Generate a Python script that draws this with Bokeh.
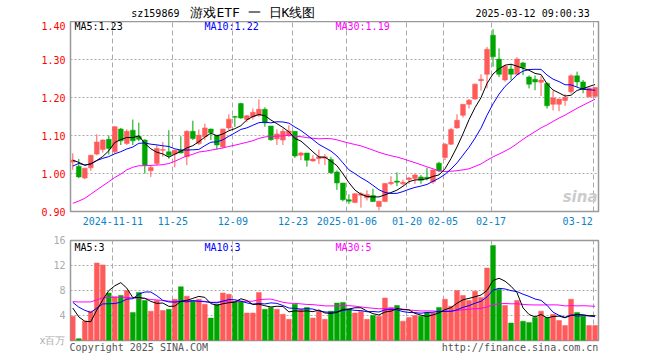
import numpy as np
import pandas as pd
from bokeh.plotting import figure
from bokeh.models import Range1d, FixedTicker, Label, ColumnDataSource, NumeralTickFormatter
from bokeh.core.properties import value
from bokeh.layouts import column
from bokeh.embed import file_html
from bokeh.resources import INLINE

# ---------------- data ----------------
# daily OHLC, 2024-10-31 .. 2025-03-12 (88 sessions)
opens = [1.030, 1.019, 0.988, 1.015, 1.051, 1.063, 1.090, 1.057, 1.117, 1.079,
         1.114, 1.098, 1.088, 1.007, 1.026, 1.061, 1.057, 1.051, 1.061, 1.044,
         1.111, 1.079, 1.097, 1.117, 1.101, 1.070, 1.120, 1.150, 1.184, 1.142,
         1.149, 1.153, 1.169, 1.125, 1.091, 1.088, 1.101, 1.111, 1.048, 1.054,
         1.033, 1.039, 1.040, 1.037, 1.004, 0.975, 0.931, 0.924, 0.943, 0.936,
         0.942, 0.913, 0.926, 0.973, 0.980, 0.973, 0.984, 0.987, 0.991, 0.990,
         0.978, 1.027, 1.042, 1.077, 1.120, 1.153, 1.182, 1.196, 1.244, 1.261,
         1.364, 1.301, 1.246, 1.275, 1.261, 1.291, 1.254, 1.248, 1.240, 1.237,
         1.182, 1.182, 1.192, 1.215, 1.257, 1.241, 1.202, 1.203]
highs = [1.053, 1.038, 1.015, 1.049, 1.103, 1.090, 1.100, 1.125, 1.120, 1.116,
         1.142, 1.134, 1.090, 1.022, 1.075, 1.083, 1.114, 1.063, 1.098, 1.114,
         1.139, 1.116, 1.131, 1.118, 1.101, 1.118, 1.156, 1.152, 1.186, 1.154,
         1.171, 1.195, 1.174, 1.125, 1.116, 1.118, 1.127, 1.111, 1.057, 1.054,
         1.048, 1.063, 1.051, 1.044, 1.008, 0.975, 0.945, 0.947, 0.951, 0.956,
         0.960, 0.927, 0.975, 0.993, 1.003, 0.984, 0.991, 1.000, 0.996, 1.015,
         1.011, 1.031, 1.080, 1.120, 1.156, 1.182, 1.196, 1.237, 1.261, 1.333,
         1.380, 1.329, 1.286, 1.288, 1.306, 1.294, 1.258, 1.258, 1.256, 1.240,
         1.218, 1.196, 1.209, 1.261, 1.268, 1.246, 1.226, 1.227]
lows = [1.010, 0.988, 0.985, 1.007, 1.048, 1.055, 1.050, 1.052, 1.075, 1.075,
        1.075, 1.085, 1.000, 0.991, 1.022, 1.044, 1.039, 1.016, 1.053, 1.022,
        1.088, 1.075, 1.088, 1.088, 1.063, 1.066, 1.114, 1.123, 1.144, 1.135,
        1.142, 1.149, 1.123, 1.086, 1.075, 1.075, 1.096, 1.041, 1.035, 1.018,
        1.031, 1.025, 1.022, 1.000, 0.957, 0.927, 0.920, 0.922, 0.910, 0.929,
        0.925, 0.903, 0.925, 0.969, 0.967, 0.969, 0.973, 0.973, 0.973, 0.982,
        0.973, 1.004, 1.035, 1.075, 1.118, 1.147, 1.171, 1.194, 1.218, 1.224,
        1.281, 1.254, 1.242, 1.246, 1.258, 1.259, 1.224, 1.219, 1.204, 1.171,
        1.166, 1.164, 1.178, 1.210, 1.228, 1.211, 1.200, 1.200]
closes = [1.035, 0.991, 1.014, 1.048, 1.083, 1.088, 1.066, 1.123, 1.086, 1.111,
          1.086, 1.090, 1.022, 1.016, 1.066, 1.063, 1.048, 1.061, 1.054, 1.111,
          1.092, 1.101, 1.120, 1.107, 1.075, 1.117, 1.143, 1.148, 1.146, 1.152,
          1.161, 1.169, 1.133, 1.089, 1.104, 1.111, 1.112, 1.046, 1.054, 1.035,
          1.038, 1.044, 1.044, 1.002, 0.975, 0.931, 0.927, 0.947, 0.947, 0.945,
          0.926, 0.927, 0.974, 0.977, 0.977, 0.977, 0.988, 0.996, 0.982, 0.987,
          1.009, 1.007, 1.077, 1.116, 1.140, 1.182, 1.193, 1.235, 1.248, 1.327,
          1.307, 1.261, 1.282, 1.261, 1.301, 1.279, 1.235, 1.241, 1.246, 1.178,
          1.199, 1.196, 1.200, 1.257, 1.241, 1.222, 1.225, 1.226]
# volume, millions
volumes = [3.9, 0.3, 3.1, 4.7, 12.4, 12.1, 7.6, 7.0, 7.2, 8.0,
           4.5, 7.7, 6.4, 4.7, 6.4, 4.8, 5.0, 6.6, 8.6, 7.1,
           6.4, 6.6, 5.8, 3.6, 5.8, 7.6, 7.4, 6.3, 6.3, 4.4,
           4.4, 7.7, 5.0, 5.3, 5.0, 4.2, 3.4, 5.8, 5.0, 5.3,
           3.6, 4.7, 3.4, 4.7, 6.0, 6.1, 5.0, 4.4, 4.7, 3.4,
           4.0, 3.9, 6.8, 5.3, 5.6, 3.1, 3.7, 4.0, 3.9, 4.5,
           4.4, 5.3, 6.6, 5.5, 8.0, 7.2, 6.4, 7.9, 6.9, 11.6,
           15.2, 8.2, 5.6, 2.8, 6.4, 3.1, 2.9, 3.7, 4.7, 3.7,
           4.2, 3.2, 2.4, 6.6, 4.5, 3.9, 2.4, 2.4]
# sessions before the window (feed the moving averages only)
pre_closes = [0.81, 0.80, 0.72, 0.75, 0.76, 0.74, 0.79, 0.82, 0.78, 0.88,
              0.97, 1.02, 0.99, 1.04, 1.03, 0.96, 0.88, 0.84, 0.90, 0.97,
              0.92, 1.06, 1.02, 0.99, 1.03, 1.02, 1.05, 1.03, 1.04]
pre_volumes = [2.0, 3.0, 4.5, 2.5, 2.5, 5.5, 6.0, 7.5, 8.0, 8.0,
               8.0, 9.0, 9.0, 8.5, 7.5, 8.1, 7.6, 6.6, 5.6, 6.1,
               8.1, 8.1, 8.1, 5.4, 5.4, 7.4, 6.6, 5.1, 3.0]

tick_labels = ["2024-11-11", "11-25", "12-09", "12-23", "2025-01-06",
               "01-20", "02-05", "02-17", "03-12"]
tick_index = [7, 17, 27, 37, 46, 56, 62, 70, 87]

price_ticks = [0.90, 1.00, 1.10, 1.20, 1.30, 1.40]
vol_ticks = [0, 4, 8, 12, 16]
vol_unit = "x百万"

ma_text = ["MA5:1.23", "MA10:1.22", "MA30:1.19"]
vol_ma_text = ["MA5:3", "MA10:3", "MA30:5"]
header_texts = ["sz159869", "游戏ETF 一 日K线图", "2025-03-12 09:00:33"]
footer_texts = ["Copyright 2025 SINA.COM", "http://finance.sina.com.cn"]

# ---------------- derived ----------------
n = len(closes)
idx = np.arange(n)
full_c = pd.Series(pre_closes + closes)
full_v = pd.Series(pre_volumes + volumes)
k = len(pre_closes)
ma = {w: full_c.rolling(w).mean().values[k:] for w in (5, 10, 30)}
vma = {w: full_v.rolling(w).mean().values[k:] for w in (5, 10, 30)}

RED = "#ff5a5a"
GREEN = "#00a600"
colors = [RED if c >= o else GREEN for o, c in zip(opens, closes)]
src = ColumnDataSource(dict(
    x=idx, o=opens, h=highs, l=lows, c=closes, v=volumes,
    top=[max(o, c) for o, c in zip(opens, closes)],
    bot=[min(o, c) for o, c in zip(opens, closes)],
    color=colors))

MONO = "DejaVu Sans Mono"
GRIDC = "#aaaaaa"
OUTC = "#999999"

grid_pos = [t - 0.33 for t in tick_index]
label_pos = grid_pos[:-1] + [tick_index[-1] - 2.9]
xr = Range1d(-0.38, n - 0.43)

W = 608
BL, BR = 70, 10
HEAD_H = 21
P1_TOP, P1_FRAME, P1_BOT = 0, 190, 19
P2_TOP, P2_FRAME, P2_BOT = 10, 100, 16


def base(top, frame_h, bottom):
    p = figure(width=W, height=top + frame_h + bottom, x_range=xr, output_backend="svg",
               toolbar_location=None, min_border_left=BL, min_border_right=BR,
               min_border_top=top, min_border_bottom=bottom)
    p.outline_line_color = OUTC
    p.outline_line_width = 1.5
    p.background_fill_color = "white"
    p.border_fill_color = "white"
    p.xgrid.ticker = FixedTicker(ticks=grid_pos)
    p.xgrid.grid_line_color = GRIDC
    p.xgrid.grid_line_dash = "5 3"
    p.ygrid.grid_line_color = GRIDC
    p.ygrid.grid_line_dash = "2 2"
    for ax in (p.xaxis[0], p.yaxis[0]):
        ax.axis_line_color = None
        ax.major_tick_line_color = None
        ax.minor_tick_line_color = None
        ax.major_tick_out = 0
        ax.major_tick_in = 0
        ax.major_label_standoff = 5
        ax.major_label_text_font = MONO
        ax.major_label_text_font_size = "10px"
    return p


def lab(p, x, y, text, color, align="left", font=MONO, size="10px", style="normal"):
    p.add_layout(Label(x=x, y=y, x_units="screen", y_units="screen", text=text,
                       text_color=color, text_align=align, text_baseline="middle",
                       text_font=font, text_font_size=size, text_font_style=style))


# ---------------- header row ----------------
hd = figure(width=W, height=HEAD_H, x_range=Range1d(0, W), y_range=Range1d(HEAD_H, 0),
            output_backend="svg", toolbar_location=None, min_border=0)
hd.axis.visible = False
hd.grid.visible = False
hd.outline_line_color = None
hd.text(x=[BL], y=[13], text=[header_texts[0]], text_font=value(MONO),
        text_font_size="10px", text_baseline="middle", text_align="left", text_color="black")
hd.text(x=[210], y=[11.5], text=[header_texts[1]], text_font=value(MONO),
        text_font_size="13px", text_baseline="middle", text_align="center", text_color="black")
hd.text(x=[W - BR], y=[13], text=[header_texts[2]], text_font=value(MONO),
        text_font_size="10px", text_baseline="middle", text_align="right", text_color="black")

# ---------------- price panel ----------------
p1 = base(P1_TOP, P1_FRAME, P1_BOT)
p1.y_range = Range1d(0.90, 1.40)
p1.yaxis.ticker = FixedTicker(ticks=price_ticks)
p1.yaxis.formatter = NumeralTickFormatter(format="0.00")
p1.yaxis.major_label_text_color = "#ff0000"
p1.ygrid.ticker = FixedTicker(ticks=price_ticks[1:-1])
p1.xaxis.ticker = FixedTicker(ticks=label_pos)
p1.xaxis.major_label_overrides = {pos: t for pos, t in zip(label_pos, tick_labels)}
p1.xaxis.major_label_text_color = "#0a84c8"

p1.segment(x0="x", y0="h", x1="x", y1="l", color="color", line_width=1, source=src)
p1.vbar(x="x", width=0.8, top="top", bottom="bot", fill_color="color",
        line_color="color", line_width=0.5, source=src)
p1.line(idx, ma[30], color="#ff00ff", line_width=1)
p1.line(idx, ma[10], color="#0000ff", line_width=1)
p1.line(idx, ma[5], color="#000000", line_width=1)

lab(p1, 4, P1_FRAME - 5, ma_text[0], "#000000")
lab(p1, 134, P1_FRAME - 5, ma_text[1], "#0000ff")
lab(p1, 265, P1_FRAME - 5, ma_text[2], "#ff00ff")
lab(p1, 527, 15, "sina", "#cccccc", align="right", font="DejaVu Sans", size="15px",
    style="bold italic")

# ---------------- volume panel ----------------
p2 = base(P2_TOP, P2_FRAME, P2_BOT)
p2.y_range = Range1d(0, 16)
p2.yaxis.ticker = FixedTicker(ticks=vol_ticks)
p2.yaxis.major_label_overrides = {0: vol_unit}
p2.yaxis.major_label_text_color = "#aaaaaa"
p2.ygrid.ticker = FixedTicker(ticks=vol_ticks[1:-1])
foot_pos = [11.0, 74.5]
p2.xaxis.ticker = FixedTicker(ticks=foot_pos)
p2.xaxis.major_label_overrides = {pos: t for pos, t in zip(foot_pos, footer_texts)}
p2.xaxis.major_label_text_color = "#555555"
p2.xaxis.major_label_standoff = 1

p2.vbar(x="x", width=0.8, top="v", bottom=0, fill_color="color", line_color="color",
        line_width=0.5, source=src)
p2.line(idx, vma[30], color="#ff00ff", line_width=1)
p2.line(idx, vma[10], color="#0000ff", line_width=1)
p2.line(idx, vma[5], color="#000000", line_width=1)

lab(p2, 4, P2_FRAME - 7, vol_ma_text[0], "#000000")
lab(p2, 134, P2_FRAME - 7, vol_ma_text[1], "#0000ff")
lab(p2, 265, P2_FRAME - 7, vol_ma_text[2], "#ff00ff")

layout = column(hd, p1, p2, spacing=0)
open("out.html", "w").write(file_html(layout, INLINE))
